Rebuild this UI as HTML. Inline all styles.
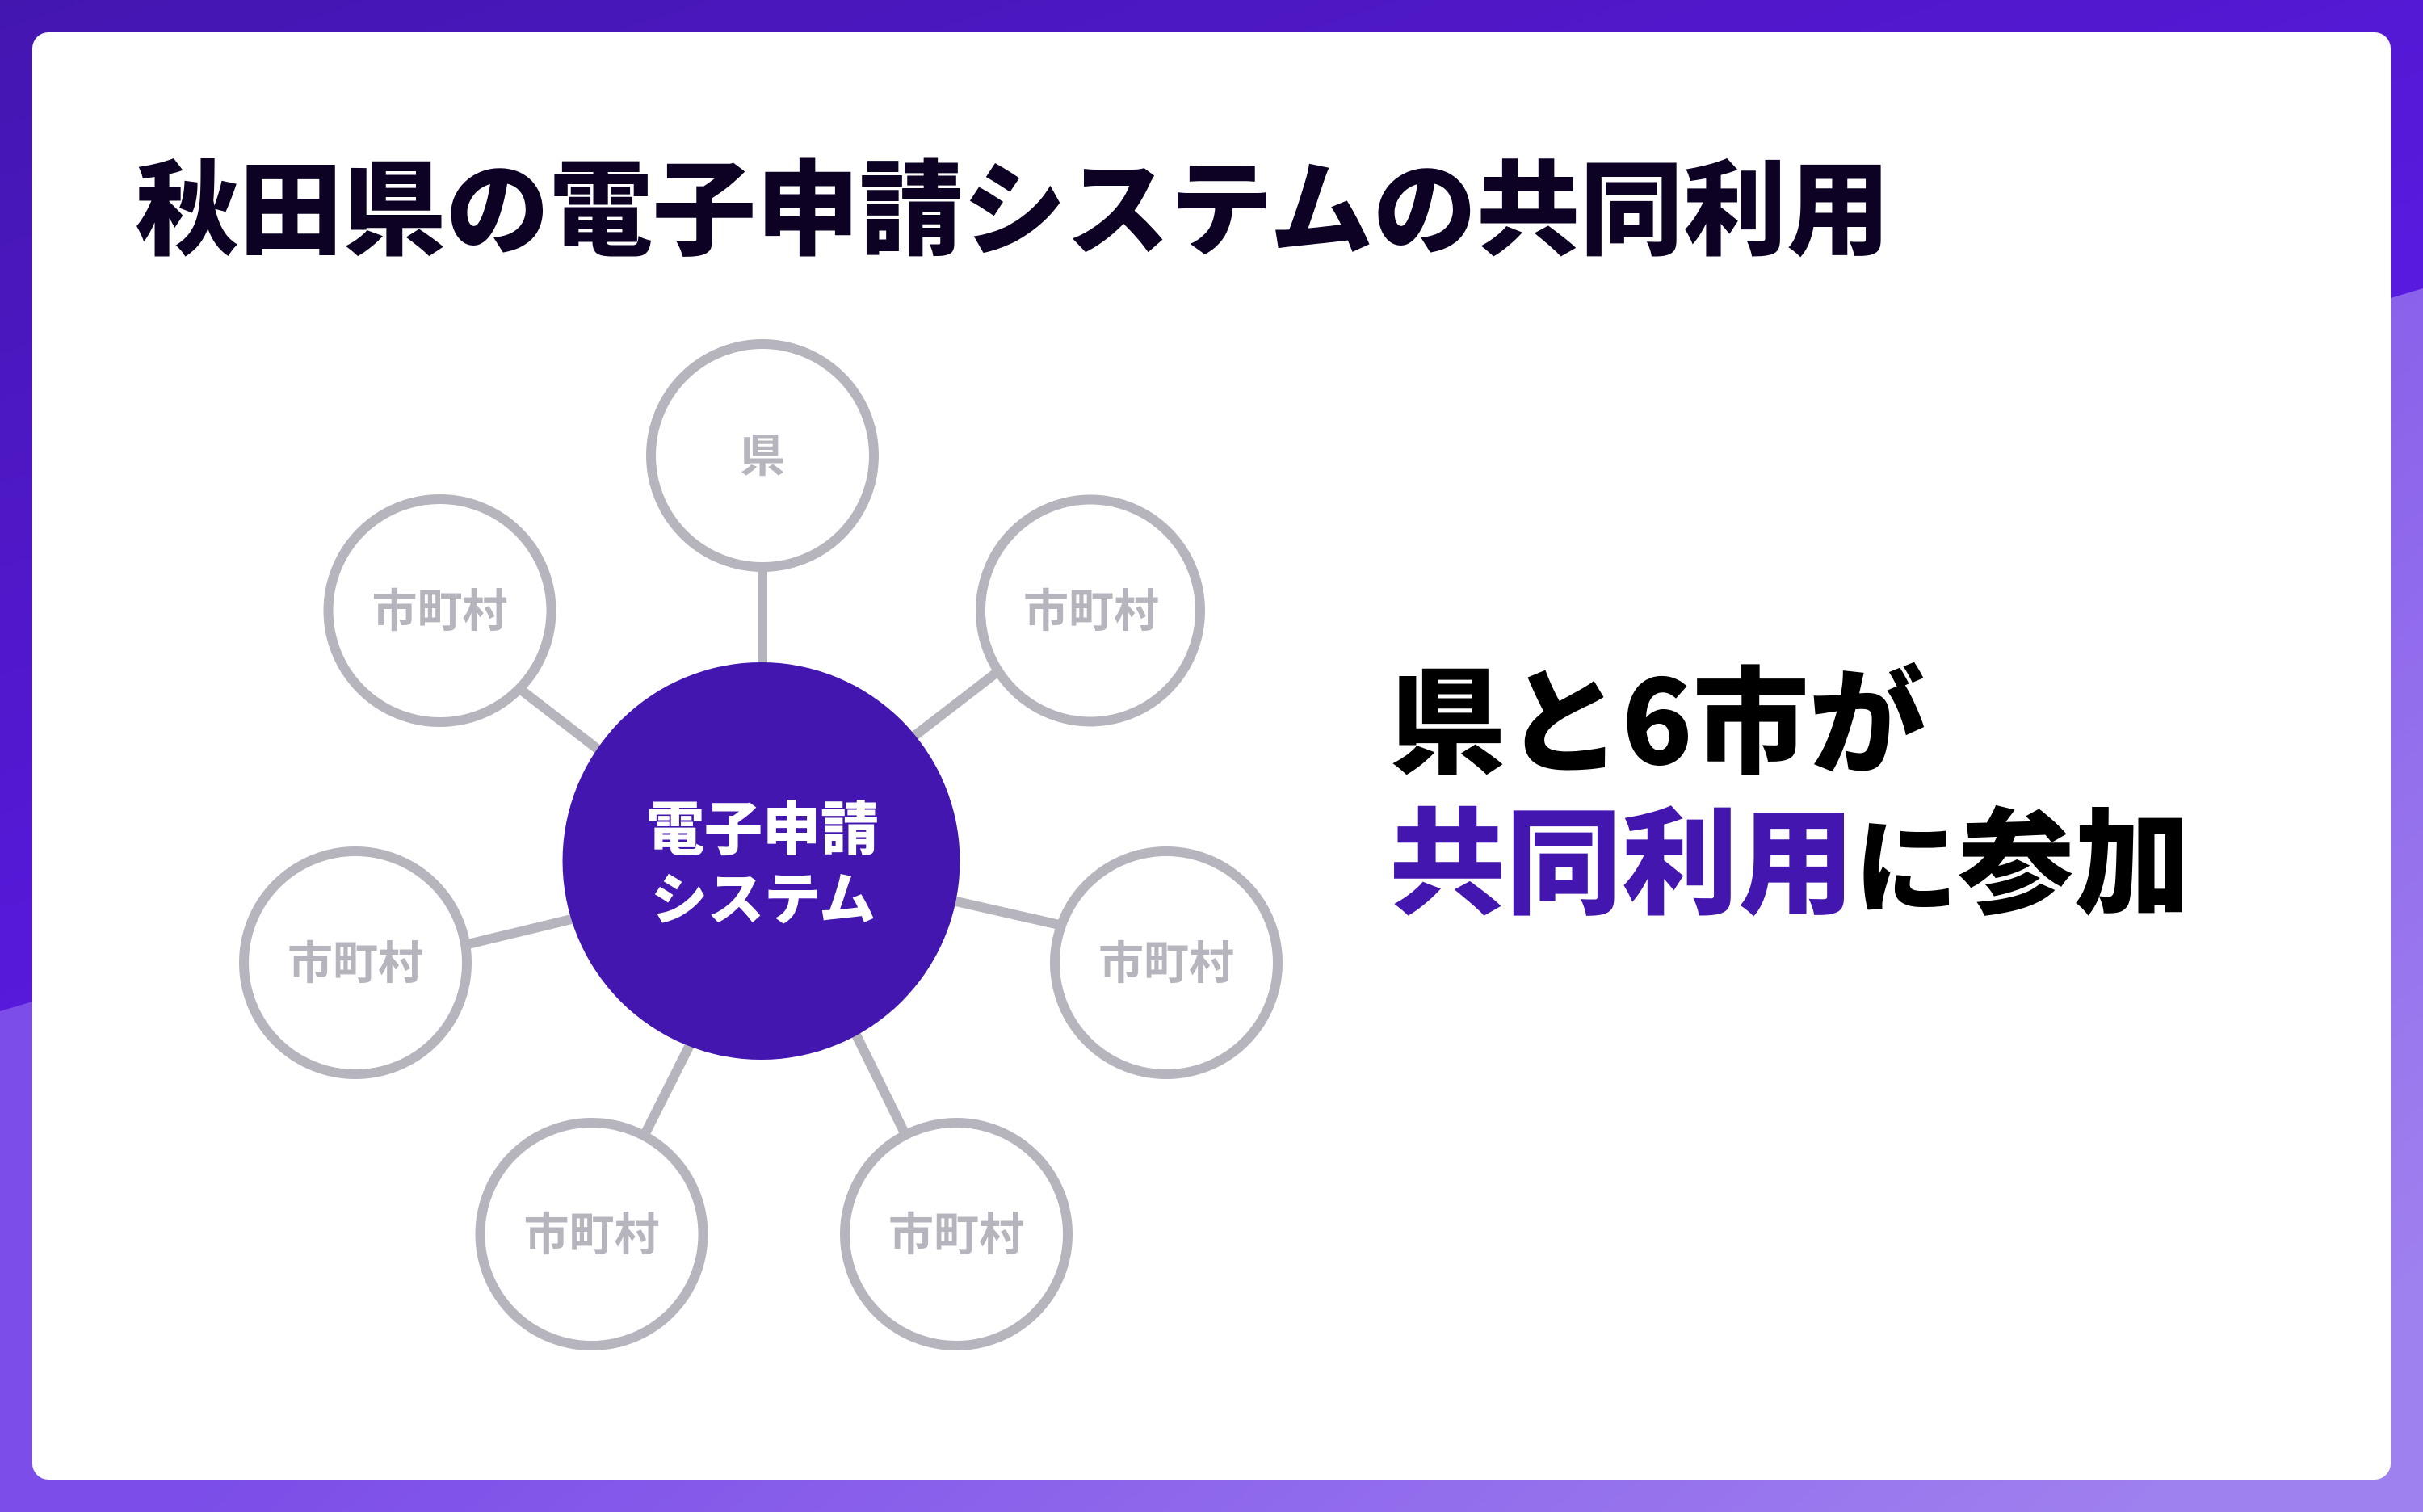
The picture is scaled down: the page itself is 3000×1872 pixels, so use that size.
<!DOCTYPE html>
<html lang="ja">
<head>
<meta charset="utf-8">
<title>秋田県の電子申請システムの共同利用</title>
<style>
html,body{margin:0;padding:0;width:3000px;height:1872px;overflow:hidden;background:#fff}
svg{display:block}
text{font-family:"Noto Sans CJK JP","Liberation Sans",sans-serif;font-weight:700}
.k{font-weight:900}
</style>
</head>
<body>
<svg xmlns="http://www.w3.org/2000/svg" width="3000" height="1872" viewBox="0 0 3000 1872">
<defs>
<linearGradient id="top" gradientUnits="userSpaceOnUse" x1="0" y1="0" x2="450" y2="1300">
<stop offset="0" stop-color="#4416B0"/>
<stop offset="1" stop-color="#5A1AE2"/>
</linearGradient>
<linearGradient id="low" gradientUnits="userSpaceOnUse" x1="1500" y1="800" x2="2500" y2="2000">
<stop offset="0" stop-color="#7C4DE8"/>
<stop offset="1" stop-color="#9F80EF"/>
</linearGradient>
</defs>
<rect width="3000" height="1872" fill="url(#top)"/>
<polygon points="0,1252 3000,357 3000,1872 0,1872" fill="url(#low)"/>
<rect x="40" y="40" width="2920" height="1792" rx="20" ry="20" fill="#fff"/>

<text class="k" x="168" y="305" font-size="128" fill="#0D0124">秋田県の電子申請システムの共同利用</text>

<g stroke="#B6B5BE" stroke-width="12" fill="none">
<line x1="944" y1="900" x2="944" y2="564"/>
<line x1="623" y1="837" x2="764" y2="946"/>
<line x1="1109" y1="929" x2="1258" y2="814"/>
<line x1="550" y1="1176" x2="737" y2="1131"/>
<line x1="1153" y1="1109" x2="1338" y2="1151"/>
<line x1="786" y1="1429" x2="867" y2="1268"/>
<line x1="1133" y1="1429" x2="1047" y2="1255"/>
</g>
<g stroke="#B6B5BE" stroke-width="12" fill="#fff">
<circle cx="944" cy="564" r="138"/>
<circle cx="544.5" cy="756" r="138"/>
<ellipse cx="1350" cy="756" rx="136" ry="137.5"/>
<circle cx="440" cy="1192" r="138"/>
<circle cx="1444" cy="1192" r="138"/>
<circle cx="732.5" cy="1528" r="138"/>
<circle cx="1184" cy="1528" r="138"/>
</g>
<circle cx="942.5" cy="1066" r="246" fill="#4416B0"/>

<g font-size="56" fill="#B6B5BE" text-anchor="middle">
<text x="944" y="584">県</text>
<text x="544.5" y="776">市町村</text>
<text x="1351" y="776">市町村</text>
<text x="440" y="1212">市町村</text>
<text x="1444" y="1212">市町村</text>
<text x="732.5" y="1548">市町村</text>
<text x="1184" y="1548">市町村</text>
</g>

<text class="k" font-size="72" fill="#fff" text-anchor="middle" x="944" y="1052">電子申請</text>
<text class="k" font-size="70" fill="#fff" text-anchor="middle" x="945" y="1138">システム</text>

<text class="k" x="1720" y="946" font-size="144" fill="#000">県と6市が</text>
<text class="k" x="1720" y="1120" font-size="144" fill="#4416B0">共同利用</text>
<text class="k" x="2296" y="1120" font-size="128" fill="#000">に</text>
<text class="k" x="2424" y="1120" font-size="144" fill="#000">参加</text>
</svg>
</body>
</html>
